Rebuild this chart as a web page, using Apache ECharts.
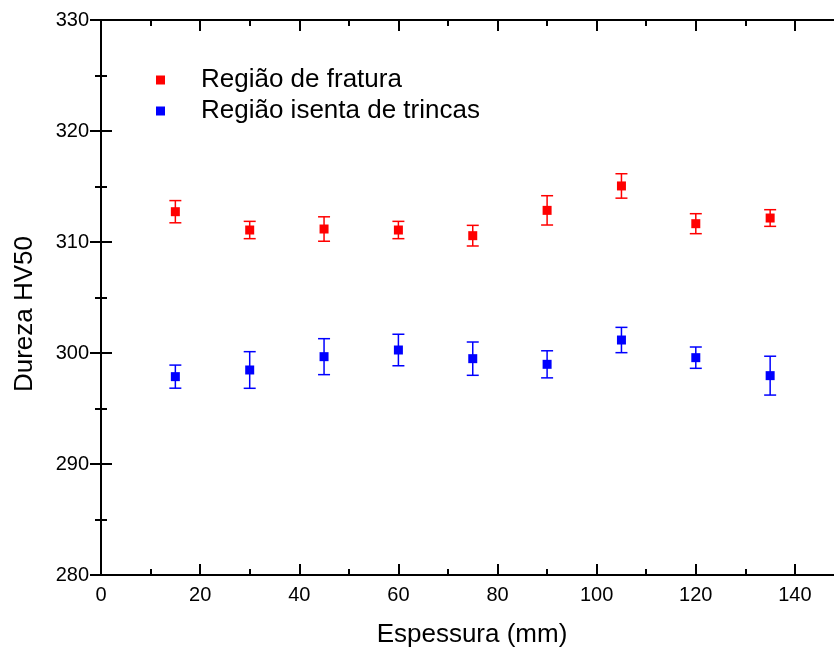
<!DOCTYPE html>
<html>
<head>
<meta charset="utf-8">
<script src="https://cdn.jsdelivr.net/npm/echarts@6/dist/echarts.min.js"></script>
<style>
html,body{margin:0;padding:0;background:#fff;}
#chart{width:834px;height:650px;}
</style>
</head>
<body>
<div id="chart"></div>
<script>
const thickness = [15, 30, 45, 60, 75, 90, 105, 120, 135];
const fractureHV = [312.73, 311.08, 311.17, 311.08, 310.57, 312.85, 315.05, 311.65, 312.16];
const fractureErr = [1.0, 0.78, 1.1, 0.78, 0.93, 1.32, 1.1, 0.9, 0.75];
const soundHV = [297.87, 298.47, 299.67, 300.27, 299.49, 298.98, 301.17, 299.58, 297.96];
const soundErr = [1.04, 1.65, 1.62, 1.42, 1.5, 1.22, 1.14, 0.96, 1.75];
const seriesNames = ['Região de fratura', 'Região isenta de trincas'];
const xTitle = 'Espessura (mm)';
const yTitle = 'Dureza HV50';

const FONT = "'Liberation Sans', Arial, sans-serif";
const RED = '#FF0000', BLUE = '#0000FF';

function pts(vals) { return thickness.map((x, i) => [x, vals[i]]); }
function errPts(vals, errs) { return thickness.map((x, i) => [x, vals[i], errs[i]]); }

function errRender(color) {
  return function (params, api) {
    const x = api.value(0), y = api.value(1), e = api.value(2);
    const top = api.coord([x, y + e]);
    const bot = api.coord([x, y - e]);
    const hw = 6;
    const style = { stroke: color, lineWidth: 1.5 };
    return {
      type: 'group',
      children: [
        { type: 'line', shape: { x1: top[0], y1: top[1], x2: bot[0], y2: bot[1] }, style },
        { type: 'line', shape: { x1: top[0] - hw, y1: top[1], x2: top[0] + hw, y2: top[1] }, style },
        { type: 'line', shape: { x1: bot[0] - hw, y1: bot[1], x2: bot[0] + hw, y2: bot[1] }, style }
      ]
    };
  };
}

function axisLine(show) { return { show: show, lineStyle: { color: '#000', width: 2 } }; }
function tick(len) { return { show: true, inside: true, length: len, lineStyle: { color: '#000', width: 2 } }; }
function noSplit() { return { show: false }; }

function xAx(pos, interval, showLine, len, labels) {
  return {
    type: 'value', position: pos, min: 0, max: 150, interval: interval,
    axisLine: axisLine(showLine), axisTick: tick(len),
    splitLine: noSplit(), minorSplitLine: noSplit(),
    axisLabel: labels ? { fontFamily: FONT, fontSize: 20, color: '#000', margin: 10, showMaxLabel: false } : { show: false }
  };
}
function yAx(pos, interval, showLine, len, labels) {
  return {
    type: 'value', position: pos, min: 280, max: 330, interval: interval,
    axisLine: axisLine(showLine), axisTick: tick(len),
    splitLine: noSplit(), minorSplitLine: noSplit(),
    axisLabel: labels ? { fontFamily: FONT, fontSize: 20, color: '#000', margin: 12 } : { show: false }
  };
}

const chart = echarts.init(document.getElementById('chart'), null, { renderer: 'canvas' });
chart.setOption({
  backgroundColor: '#fff',
  animation: false,
  textStyle: { fontFamily: FONT },
  grid: { left: 101, right: -10.5, top: 20, bottom: 75, containLabel: false, outerBoundsMode: 'none' },
  legend: {
    orient: 'vertical',
    left: 151,
    top: 62,
    itemWidth: 9,
    itemHeight: 9,
    itemGap: 5,
    icon: 'rect',
    data: seriesNames,
    textStyle: { fontFamily: FONT, fontSize: 26, color: '#000', padding: [0, 0, 0, 31] }
  },
  xAxis: [
    xAx('bottom', 20, true, 11, true),
    xAx('bottom', 10, false, 6, false),
    xAx('top', 20, true, 11, false),
    xAx('top', 10, false, 6, false)
  ],
  yAxis: [
    yAx('left', 10, true, 11, true),
    yAx('left', 5, false, 6, false),
    yAx('right', 10, true, 11, false),
    yAx('right', 5, false, 6, false)
  ],
  graphic: [
    {
      type: 'text', x: 472, y: 635,
      style: { text: xTitle, fontFamily: FONT, fontSize: 26, fill: '#000', align: 'center', verticalAlign: 'middle' }
    },
    {
      type: 'text', x: 25, y: 314, rotation: Math.PI / 2,
      style: { text: yTitle, fontFamily: FONT, fontSize: 26, fill: '#000', align: 'center', verticalAlign: 'middle' }
    }
  ],
  series: [
    {
      name: 'err1', type: 'custom', renderItem: errRender(RED), data: errPts(fractureHV, fractureErr),
      z: 2, silent: true, encode: { x: 0, y: 1 }
    },
    {
      name: 'err2', type: 'custom', renderItem: errRender(BLUE), data: errPts(soundHV, soundErr),
      z: 2, silent: true, encode: { x: 0, y: 1 }
    },
    {
      name: seriesNames[0], type: 'scatter', symbol: 'rect', symbolSize: 9,
      itemStyle: { color: RED, opacity: 1 }, data: pts(fractureHV), z: 3
    },
    {
      name: seriesNames[1], type: 'scatter', symbol: 'rect', symbolSize: 9,
      itemStyle: { color: BLUE, opacity: 1 }, data: pts(soundHV), z: 3
    }
  ]
});
</script>
</body>
</html>
